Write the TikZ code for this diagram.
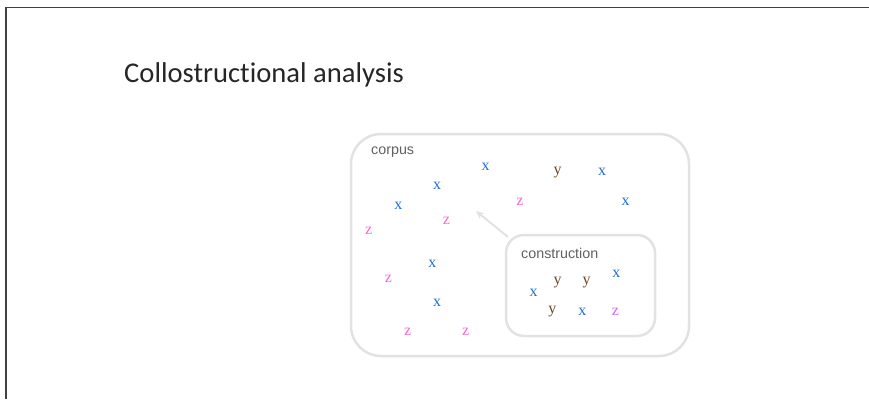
\documentclass[tikz,border=0pt]{standalone}
\usepackage{fontspec}
\setmainfont{Liberation Serif}
\newfontfamily\titlefont[Ligatures={NoCommon,NoContextual}]{Carlito}
\newfontfamily\labelfont{Liberation Sans}
\usetikzlibrary{arrows.meta}
\definecolor{xblue}{HTML}{1F6FD0}
\definecolor{ybrown}{HTML}{6B4A2A}
\definecolor{zpink}{HTML}{FF66CC}
\definecolor{zviolet}{HTML}{CC66FF}
\definecolor{boxgray}{HTML}{E2E2E2}
\definecolor{labelgray}{HTML}{606060}
\tikzset{
  frameline/.style={draw=black!75, line width=1.5pt},
  setbox/.style={draw=boxgray, line width=2.5pt},
  boxlabel/.style={font=\labelfont\fontsize{14.3}{16}\selectfont, text=labelgray, inner sep=0pt},
  tok/.style={font=\fontsize{16}{18}\selectfont, inner sep=0pt},
  xt/.style={tok, text=xblue},
  yt/.style={tok, text=ybrown},
  zt/.style={tok, text=zpink},
  zv/.style={tok, text=zviolet},
  linkarrow/.style={draw=boxgray, line width=2pt, -{Stealth[length=8pt,width=7pt]}}
}
\begin{document}
\begin{tikzpicture}[x=1pt, y=-1pt]
\useasboundingbox (0,0) rectangle (869,399);
% page frame (left and top edges)
\draw[frameline] (6,399) -- (6,7.5) -- (869,7.5);
% heading
\node[anchor=base west, inner sep=0pt, text=black!85, font=\titlefont\fontsize{28.6}{32}\selectfont] (title) at (124,82) {Collostructional analysis};
% corpus and construction sets
\draw[setbox, rounded corners=30pt] (351,134) rectangle (689,356);
\node[boxlabel, anchor=west] (corpus) at (371,152.5) {corpus};
\draw[setbox, rounded corners=18pt] (506,235) rectangle (655,336);
\coordinate (constr) at (508,237);
\node[boxlabel, anchor=west] (construction) at (521,253) {construction};
\coordinate (target) at (476,211);
\draw[linkarrow] (constr) -- (target);
% tokens in the corpus
\node[xt] (c1) at (485.7,167) {x};
\node[yt] (c2) at (557.7,172.5) {y};
\node[xt] (c3) at (602,172) {x};
\node[xt] (c4) at (437,186) {x};
\node[xt] (c5) at (398.3,206) {x};
\node[zt] (c6) at (520,201.5) {z};
\node[xt] (c7) at (625.7,201.5) {x};
\node[zt] (c8) at (446.3,220.5) {z};
\node[zt] (c9) at (368.7,230.5) {z};
\node[xt] (c10) at (432.3,264) {x};
\node[zt] (c11) at (388.3,278.5) {z};
\node[xt] (c12) at (437,303) {x};
\node[zt] (c13) at (407.7,332) {z};
\node[zt] (c14) at (465.7,332) {z};
% tokens in the construction
\node[xt] (k1) at (616.3,274) {x};
\node[yt] (k2) at (557.7,282.5) {y};
\node[yt] (k3) at (586.7,282.5) {y};
\node[xt] (k4) at (533.7,293) {x};
\node[yt] (k5) at (552.3,312) {y};
\node[xt] (k6) at (582.3,312) {x};
\node[zv] (k7) at (615.3,312) {z};
\end{tikzpicture}
\end{document}
